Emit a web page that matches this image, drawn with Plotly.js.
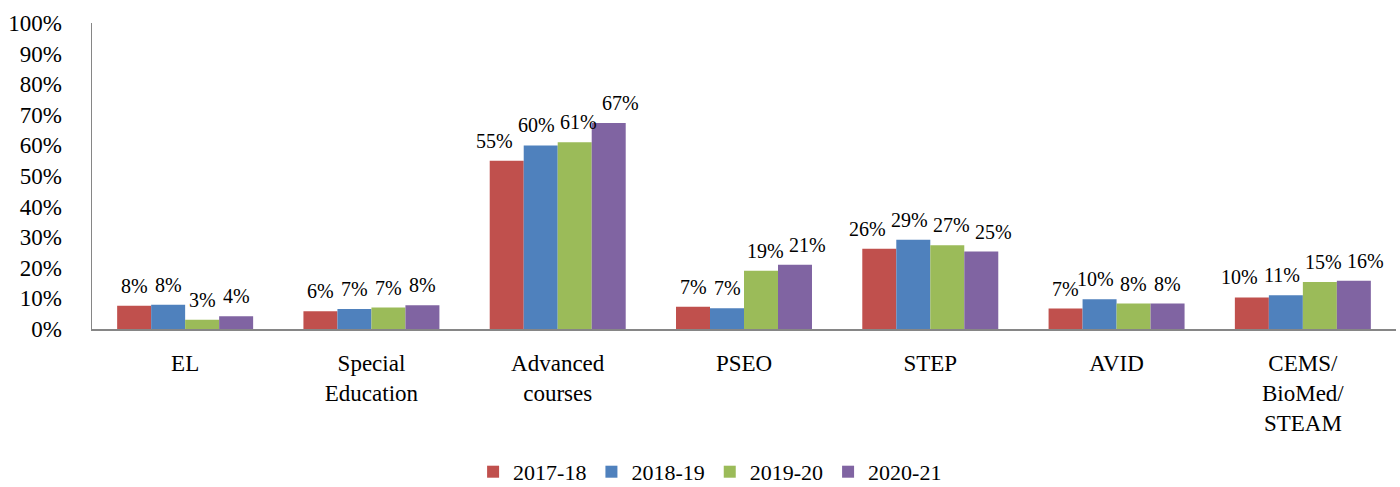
<!DOCTYPE html>
<html><head><meta charset="utf-8">
<script src="https://cdn.plot.ly/plotly-3.0.1.min.js"></script>
<style>html,body{margin:0;padding:0;background:#fff}</style>
</head><body><div id="chart" style="width:1400px;height:487px"></div>
<script>
const categories = ["EL", "Special<br>Education", "Advanced<br>courses", "PSEO", "STEP", "AVID", "CEMS/<br>BioMed/<br>STEAM"];
const seriesNames = ["2017-18", "2018-19", "2019-20", "2020-21"];
const v2017 = [0.076, 0.058, 0.55, 0.073, 0.262, 0.067, 0.103];
const v2018 = [0.079, 0.065, 0.60, 0.068, 0.292, 0.097, 0.110];
const v2019 = [0.030, 0.070, 0.61, 0.190, 0.274, 0.083, 0.154];
const v2020 = [0.042, 0.078, 0.673, 0.210, 0.253, 0.083, 0.158];
const colors = ["#C0504D", "#4F81BD", "#9BBB59", "#8064A2"];
const seriesVals = [v2017, v2018, v2019, v2020];

const font = "'Liberation Serif', 'Times New Roman', Times, serif";
const traces = seriesVals.map((vals, i) => ({
  type: "bar", name: seriesNames[i], x: categories, y: vals,
  marker: {color: colors[i]},
  hoverinfo: "skip"
}));

const barW = 34;
const annotations = [];
seriesVals.forEach((vals, i) => {
  vals.forEach((v, j) => {
    const pct = Math.round(v * 100);
    const spread = pct >= 10 ? 8 : 0;
    annotations.push({
      x: categories[j], y: v, xref: "x", yref: "y",
      text: pct + "%", showarrow: false,
      xshift: (i - 1.5) * (barW + spread), yshift: 20, yanchor: "middle", xanchor: "center",
      font: {family: font, size: 20, color: "#000"}
    });
  });
});

const layout = {
  width: 1400, height: 487,
  margin: {l: 92, r: 4, t: 23, b: 158},
  paper_bgcolor: "#fff", plot_bgcolor: "#fff",
  barmode: "group", bargap: 0.27, bargroupgap: 0,
  font: {family: font, color: "#000"},
  annotations: annotations,
  xaxis: {showline: true, linecolor: "#868686", linewidth: 1.5, ticks: "", automargin: false,
          tickfont: {family: font, size: 23}, showgrid: false, zeroline: false, ticklabelstandoff: 13},
  yaxis: {range: [0, 1], dtick: 0.1, tickformat: ".0%", showline: true, linecolor: "#868686", linewidth: 1.5, automargin: false,
          ticks: "", showgrid: false, zeroline: false, tickfont: {family: font, size: 23}, ticklabelstandoff: 24},
  showlegend: true,
  legend: {orientation: "h", x: 0.474, xanchor: "center", yref: "container", y: 0.031, yanchor: "middle",
           font: {family: font, size: 22}, itemwidth: 30, traceorder: "normal"}
};
Plotly.newPlot("chart", traces, layout, {displayModeBar: false, staticPlot: true});
</script></body></html>
